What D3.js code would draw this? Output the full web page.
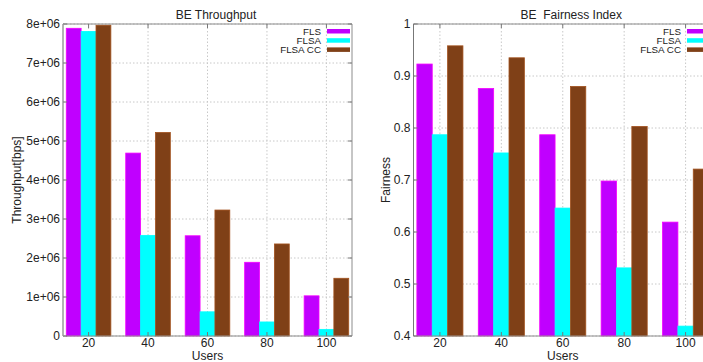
<!DOCTYPE html>
<html>
<head>
<meta charset="utf-8">
<script src="https://cdn.jsdelivr.net/npm/d3@7"></script>
<style>
  body { margin: 0; background: #fff; }
  svg { display: block; font-family: "Liberation Sans", Arial, sans-serif; }
  text { fill: #222; }
</style>
</head>
<body>
<svg id="chart" width="703" height="362"></svg>
<script>
const users = ["20", "40", "60", "80", "100"];
const seriesNames = ["FLS", "FLSA", "FLSA CC"];
const seriesColors = ["#c000ff", "#00ffff", "#7f4017"];

// BE throughput [bps]
const thrFLS = [7.89e6, 4.69e6, 2.57e6, 1.89e6, 1.03e6];
const thrFLSA = [7.81e6, 2.58e6, 0.62e6, 0.36e6, 0.17e6];
const thrFLSACC = [7.97e6, 5.22e6, 3.23e6, 2.36e6, 1.48e6];
const thrTicks = [0, 1e6, 2e6, 3e6, 4e6, 5e6, 6e6, 7e6, 8e6];
const thrTickLabels = ["0", "1e+06", "2e+06", "3e+06", "4e+06", "5e+06", "6e+06", "7e+06", "8e+06"];

// BE fairness index
const fairFLS = [0.923, 0.876, 0.787, 0.698, 0.619];
const fairFLSA = [0.787, 0.752, 0.646, 0.531, 0.419];
const fairFLSACC = [0.958, 0.935, 0.880, 0.803, 0.721];
const fairTicks = [0.4, 0.5, 0.6, 0.7, 0.8, 0.9, 1];
const fairTickLabels = ["0.4", "0.5", "0.6", "0.7", "0.8", "0.9", "1"];

const svg = d3.select("#chart");

function drawPanel(p) {
  const g = svg.append("g");
  const x = d3.scaleLinear().domain([-0.43, 4.43]).range([p.left, p.right]);
  const y = d3.scaleLinear().domain(p.yDomain).range([p.bottom, p.top]);
  const barW = 0.25;

  // grid
  g.append("g")
    .selectAll("line")
    .data(users)
    .join("line")
    .attr("x1", (d, i) => x(i)).attr("x2", (d, i) => x(i))
    .attr("y1", p.top).attr("y2", p.bottom)
    .attr("stroke", "#c8c8c8").attr("stroke-dasharray", "1.5,2");
  g.append("g")
    .selectAll("line")
    .data(p.ticks)
    .join("line")
    .attr("x1", p.left).attr("x2", p.right)
    .attr("y1", (d) => y(d)).attr("y2", (d) => y(d))
    .attr("stroke", "#c8c8c8").attr("stroke-dasharray", "1.5,2");

  // bars
  p.series.forEach((vals, s) => {
    const c = seriesColors[s];
    g.append("g")
      .selectAll("rect")
      .data(vals)
      .join("rect")
      .attr("x", (d, i) => x(i + (s - 1.5) * barW))
      .attr("width", x(barW) - x(0))
      .attr("y", (d) => y(d))
      .attr("height", (d) => p.bottom - y(d))
      .attr("fill", c)
      .attr("stroke", d3.color(c).brighter(0.7))
      .attr("stroke-width", 0.8);
  });

  // frame
  g.append("path")
    .attr("d", `M${p.left},${p.top}H${p.right}V${p.bottom}H${p.left}Z`)
    .attr("fill", "none").attr("stroke", "#8c8c8c").attr("stroke-width", 1);
  g.append("line")
    .attr("x1", p.left).attr("x2", p.left)
    .attr("y1", p.top).attr("y2", p.bottom)
    .attr("stroke", p.leftAxisColor).attr("stroke-width", p.leftAxisWidth);

  // tick marks
  const tk = 4;
  g.append("g").selectAll("path")
    .data(p.ticks)
    .join("path")
    .attr("d", (d) => `M${p.left},${y(d)}h${tk}M${p.right},${y(d)}h${-tk}`)
    .attr("stroke", "#777");
  g.append("g").selectAll("path")
    .data(users)
    .join("path")
    .attr("d", (d, i) => `M${x(i)},${p.bottom}v${-tk}M${x(i)},${p.top}v${tk}`)
    .attr("stroke", "#777");

  // tick labels
  g.append("g").selectAll("text")
    .data(p.ticks)
    .join("text")
    .attr("x", p.left - 3)
    .attr("y", (d) => y(d) + 4)
    .attr("text-anchor", "end")
    .attr("font-size", 12)
    .text((d, i) => p.tickLabels[i]);
  g.append("g").selectAll("text")
    .data(users)
    .join("text")
    .attr("x", (d, i) => x(i))
    .attr("y", p.bottom + 11)
    .attr("text-anchor", "middle")
    .attr("font-size", 12)
    .text((d) => d);

  // axis titles
  g.append("text")
    .attr("x", (p.left + p.right) / 2)
    .attr("y", 360)
    .attr("text-anchor", "middle")
    .attr("font-size", 12)
    .text("Users");
  g.append("text")
    .attr("transform", `translate(${p.yLabelX},${(p.top + p.bottom) / 2}) rotate(-90)`)
    .attr("text-anchor", "middle")
    .attr("font-size", 12)
    .text(p.yLabel);
  g.append("text")
    .attr("x", (p.left + p.right) / 2 + 8.5)
    .attr("y", 19)
    .attr("text-anchor", "middle")
    .attr("font-size", 12)
    .style("white-space", "pre")
    .text(p.title);

  // legend
  const lg = g.append("g")
    .attr("transform", `translate(${p.right - 31},${p.top + 7})`);
  seriesNames.forEach((name, s) => {
    lg.append("text")
      .attr("x", 0)
      .attr("y", s * 9.2 + 3.5)
      .attr("text-anchor", "end")
      .attr("font-size", 9.8)
      .text(name);
    lg.append("rect")
      .attr("x", 6)
      .attr("y", s * 9.2 - 2)
      .attr("width", 23)
      .attr("height", 4.5)
      .attr("fill", seriesColors[s]);
  });
}

drawPanel({
  left: 63, right: 352, top: 24, bottom: 336,
  yDomain: [0, 8e6],
  ticks: thrTicks, tickLabels: thrTickLabels,
  series: [thrFLS, thrFLSA, thrFLSACC],
  title: "BE Throughput",
  yLabel: "Throughput[bps]",
  yLabelX: 21,
  leftAxisColor: "#b4b4b4", leftAxisWidth: 2
});

drawPanel({
  left: 413.5, right: 712, top: 24, bottom: 336,
  yDomain: [0.4, 1],
  ticks: fairTicks, tickLabels: fairTickLabels,
  series: [fairFLS, fairFLSA, fairFLSACC],
  title: "BE  Fairness Index",
  yLabel: "Fairness",
  yLabelX: 390,
  leftAxisColor: "#777", leftAxisWidth: 1
});
</script>
</body>
</html>
